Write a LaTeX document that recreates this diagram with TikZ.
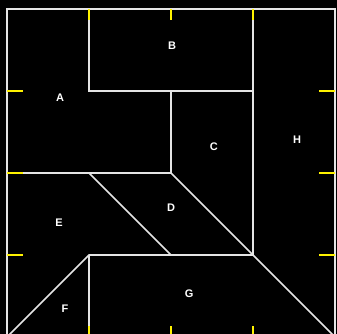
\documentclass[tikz,border=0pt]{standalone}
\usepackage{fontspec}
\setsansfont{Liberation Sans}

\begin{document}
\begin{tikzpicture}[
    x=82pt,
    y=-82pt,
    edge/.style={
        draw=white!90!black,
        line width=1.6pt
    },
    tick/.style={draw=yellow, line width=2pt},
    lbl/.style={
        text=white,
        font=\sffamily\bfseries\fontsize{11}{13}\selectfont
    }
]
    % black sheet, trimmed like the reference
    \useasboundingbox (-0.08537,-0.10976) rectangle (4.02439,3.96341);
    \clip (-0.08537,-0.10976) rectangle (4.02439,3.96341);
    \fill[black] (-0.08537,-0.10976) rectangle (4.02439,3.96341);

    % outline and cuts
    \draw[edge] (0,0) rectangle (4,4);
    \draw[edge] (1,0) -- (1,1) -- (3,1);
    \draw[edge] (3,0) -- (3,3);
    \draw[edge] (2,1) -- (2,2);
    \draw[edge] (0,2) -- (2,2) -- (4,4);
    \draw[edge] (1,2) -- (2,3);
    \draw[edge] (0,4) -- (1,3) -- (3,3);
    \draw[edge] (1,3) -- (1,4);

    % yellow marks on the border
    \foreach \k in {1,2,3} {
        \draw[tick] (\k,0) -- ++(0,0.14);
        \draw[tick] (\k,4) -- ++(0,-0.14);
        \draw[tick] (0,\k) -- ++(0.19,0);
        \draw[tick] (4,\k) -- ++(-0.19,0);
    }

    % piece names
    \node[lbl] (pa) at (0.646,1.079) {A};
    \node[lbl] (pb) at (2.012,0.445) {B};
    \node[lbl] (pc) at (2.524,1.677) {C};
    \node[lbl] (pd) at (2.000,2.420) {D};
    \node[lbl] (pe) at (0.634,2.604) {E};
    \node[lbl] (pf) at (0.707,3.652) {F};
    \node[lbl] (pg) at (2.220,3.470) {G};
    \node[lbl] (ph) at (3.537,1.591) {H};
\end{tikzpicture}
\end{document}
